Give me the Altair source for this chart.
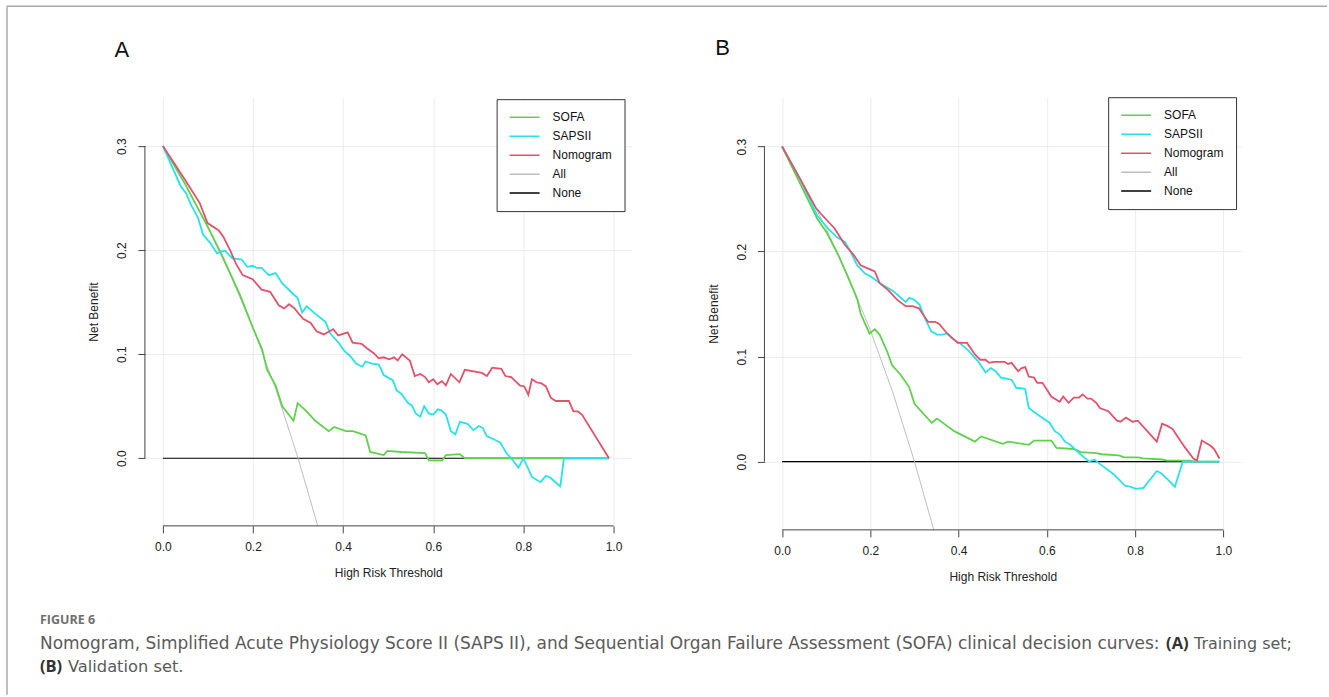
import altair as alt
import pandas as pd

# ---------------- data ----------------
SERIES = ["SOFA", "SAPSII", "Nomogram", "All", "None"]
COLORS = ["#61D04F", "#28E2E5", "#DF536B", "#BEBEBE", "#000000"]
X_TICKS = [0.0, 0.2, 0.4, 0.6, 0.8, 1.0]
Y_TICKS = [0.0, 0.1, 0.2, 0.3]

# shared reference curves
all_x = [0.0, 0.05, 0.10, 0.15, 0.20, 0.25, 0.30, 0.345]
all_y = [0.300, 0.263, 0.222, 0.176, 0.125, 0.067, 0.000, -0.067]
none_x = [0.0, 0.99]
none_y = [0.0, 0.0]

# ---- Panel A (training set)
nom_a_x = [0.000, 0.050, 0.082, 0.099, 0.124, 0.134, 0.149, 0.162, 0.177, 0.199,
           0.219, 0.238, 0.257, 0.269, 0.280, 0.292, 0.311, 0.328, 0.341, 0.357,
           0.378, 0.389, 0.410, 0.421, 0.441, 0.452, 0.468, 0.479, 0.490, 0.502,
           0.513, 0.521, 0.531, 0.548, 0.559, 0.571, 0.582, 0.590, 0.600, 0.609,
           0.619, 0.628, 0.639, 0.658, 0.670, 0.708, 0.719, 0.731, 0.751, 0.760,
           0.773, 0.792, 0.802, 0.811, 0.819, 0.829, 0.840, 0.850, 0.861, 0.872,
           0.901, 0.911, 0.921, 0.930, 0.990]
nom_a_y = [0.300, 0.267, 0.245, 0.226, 0.219, 0.213, 0.200, 0.187, 0.176, 0.172,
           0.162, 0.160, 0.147, 0.144, 0.148, 0.144, 0.134, 0.130, 0.122, 0.119,
           0.124, 0.118, 0.121, 0.111, 0.110, 0.106, 0.101, 0.096, 0.097, 0.095,
           0.097, 0.094, 0.100, 0.094, 0.079, 0.081, 0.078, 0.073, 0.076, 0.071,
           0.074, 0.070, 0.081, 0.073, 0.085, 0.082, 0.079, 0.087, 0.086, 0.079,
           0.078, 0.070, 0.069, 0.061, 0.076, 0.073, 0.072, 0.069, 0.058, 0.055,
           0.055, 0.045, 0.045, 0.042, 0.000]

saps_a_x = [0.000, 0.040, 0.051, 0.063, 0.078, 0.089, 0.105, 0.120, 0.129, 0.139,
            0.154, 0.175, 0.187, 0.200, 0.208, 0.219, 0.235, 0.250, 0.265, 0.284,
            0.299, 0.309, 0.319, 0.338, 0.361, 0.371, 0.388, 0.403, 0.414, 0.429,
            0.442, 0.450, 0.464, 0.479, 0.490, 0.510, 0.519, 0.529, 0.544, 0.552,
            0.561, 0.571, 0.580, 0.590, 0.600, 0.610, 0.618, 0.628, 0.639, 0.649,
            0.659, 0.676, 0.689, 0.701, 0.710, 0.719, 0.731, 0.749, 0.762, 0.773,
            0.789, 0.800, 0.819, 0.838, 0.850, 0.861, 0.876, 0.882, 0.890, 0.990]
saps_a_y = [0.300, 0.261, 0.255, 0.243, 0.231, 0.215, 0.207, 0.197, 0.199, 0.199,
            0.192, 0.191, 0.184, 0.185, 0.183, 0.183, 0.176, 0.178, 0.168, 0.160,
            0.154, 0.140, 0.146, 0.139, 0.131, 0.120, 0.112, 0.103, 0.099, 0.091,
            0.088, 0.093, 0.091, 0.090, 0.080, 0.075, 0.065, 0.062, 0.053, 0.051,
            0.043, 0.040, 0.050, 0.043, 0.042, 0.047, 0.046, 0.042, 0.026, 0.023,
            0.035, 0.033, 0.027, 0.031, 0.029, 0.021, 0.019, 0.015, 0.005, 0.000,
            -0.009, 0.000, -0.018, -0.023, -0.017, -0.019, -0.025, -0.027, 0.000, 0.000]

sofa_a_x = [0.000, 0.050, 0.100, 0.130, 0.170, 0.200, 0.220, 0.231, 0.250, 0.265,
            0.290, 0.299, 0.319, 0.338, 0.368, 0.380, 0.406, 0.422, 0.450, 0.460,
            0.490, 0.498, 0.529, 0.582, 0.590, 0.620, 0.628, 0.659, 0.670, 0.990]
sofa_a_y = [0.300, 0.263, 0.222, 0.196, 0.158, 0.125, 0.105, 0.085, 0.070, 0.050,
            0.036, 0.053, 0.045, 0.036, 0.026, 0.030, 0.026, 0.026, 0.022, 0.006,
            0.003, 0.007, 0.006, 0.005, -0.002, -0.002, 0.003, 0.004, 0.000, 0.000]

# ---- Panel B (validation set)
nom_b_x = [0.000, 0.041, 0.076, 0.088, 0.119, 0.143, 0.162, 0.178, 0.194, 0.210,
           0.221, 0.241, 0.261, 0.280, 0.296, 0.310, 0.331, 0.347, 0.356, 0.374,
           0.398, 0.419, 0.437, 0.449, 0.461, 0.469, 0.480, 0.504, 0.512, 0.520,
           0.535, 0.543, 0.551, 0.559, 0.571, 0.578, 0.590, 0.610, 0.629, 0.637,
           0.649, 0.661, 0.673, 0.681, 0.692, 0.700, 0.712, 0.720, 0.739, 0.759,
           0.767, 0.779, 0.794, 0.806, 0.849, 0.861, 0.873, 0.885, 0.896, 0.912,
           0.932, 0.940, 0.951, 0.971, 0.979, 0.991]
nom_b_y = [0.300, 0.269, 0.242, 0.236, 0.222, 0.206, 0.197, 0.187, 0.184, 0.181,
           0.170, 0.163, 0.154, 0.148, 0.148, 0.146, 0.133, 0.133, 0.131, 0.122,
           0.113, 0.113, 0.102, 0.097, 0.097, 0.094, 0.095, 0.095, 0.093, 0.094,
           0.086, 0.089, 0.090, 0.081, 0.080, 0.075, 0.075, 0.062, 0.057, 0.062,
           0.056, 0.061, 0.061, 0.064, 0.060, 0.060, 0.056, 0.051, 0.048, 0.039,
           0.038, 0.042, 0.038, 0.039, 0.019, 0.036, 0.034, 0.031, 0.024, 0.014,
           0.003, 0.001, 0.020, 0.015, 0.012, 0.003]

saps_b_x = [0.000, 0.041, 0.080, 0.104, 0.123, 0.143, 0.155, 0.170, 0.188, 0.202,
            0.221, 0.237, 0.253, 0.280, 0.288, 0.300, 0.312, 0.323, 0.338, 0.351,
            0.363, 0.374, 0.386, 0.402, 0.422, 0.445, 0.461, 0.473, 0.484, 0.496,
            0.520, 0.531, 0.543, 0.551, 0.559, 0.578, 0.606, 0.618, 0.629, 0.641,
            0.653, 0.673, 0.696, 0.708, 0.716, 0.732, 0.751, 0.763, 0.777, 0.790,
            0.802, 0.819, 0.834, 0.849, 0.859, 0.881, 0.890, 0.908, 0.991]
saps_b_y = [0.300, 0.269, 0.234, 0.222, 0.214, 0.209, 0.200, 0.187, 0.179, 0.176,
            0.170, 0.166, 0.162, 0.152, 0.156, 0.154, 0.149, 0.137, 0.124, 0.121,
            0.121, 0.122, 0.117, 0.113, 0.106, 0.095, 0.085, 0.089, 0.086, 0.080,
            0.078, 0.070, 0.070, 0.069, 0.051, 0.045, 0.037, 0.029, 0.026, 0.019,
            0.016, 0.008, 0.000, 0.002, -0.001, -0.006, -0.012, -0.017, -0.023, -0.024,
            -0.026, -0.025, -0.017, -0.009, -0.011, -0.020, -0.024, 0.000, 0.000]

sofa_b_x = [0.000, 0.080, 0.100, 0.127, 0.151, 0.170, 0.178, 0.198, 0.210, 0.221,
            0.237, 0.249, 0.268, 0.288, 0.300, 0.339, 0.351, 0.390, 0.437, 0.451,
            0.500, 0.512, 0.559, 0.571, 0.610, 0.622, 0.661, 0.677, 0.712, 0.724,
            0.763, 0.775, 0.806, 0.818, 0.861, 0.873, 0.924, 0.936, 0.991]
sofa_b_y = [0.300, 0.231, 0.219, 0.197, 0.174, 0.155, 0.141, 0.122, 0.126, 0.121,
            0.106, 0.092, 0.083, 0.071, 0.055, 0.037, 0.041, 0.029, 0.019, 0.024,
            0.017, 0.019, 0.016, 0.020, 0.020, 0.013, 0.012, 0.009, 0.008, 0.007,
            0.006, 0.004, 0.004, 0.003, 0.002, 0.001, 0.001, 0.000, 0.000]

# texts
PANEL_LETTERS = ["A", "B"]
X_TITLE = "High Risk Threshold"
Y_TITLE = "Net Benefit"
FIG_LABEL = "FIGURE 6"
CAP_MAIN = ("Nomogram, Simplified Acute Physiology Score II (SAPS II), and Sequential "
            "Organ Failure Assessment (SOFA) clinical decision curves:")
CAP_A = "(A)"
CAP_A_TEXT = "Training set;"
CAP_B = "(B)"
CAP_B_TEXT = "Validation set."

# ---------------- helpers ----------------
FONT = "Liberation Sans"
XDOM = [-0.04, 1.04]
YDOM = [-0.065, 0.347]
DRAW_ORDER = ["None", "All", "SOFA", "SAPSII", "Nomogram"]
WIDTHS = {"None": 1.2, "All": 1.0, "SOFA": 1.8, "SAPSII": 1.8, "Nomogram": 1.8}


def build_df(curves):
    rows = []
    for name, (xs, ys) in curves.items():
        assert len(xs) == len(ys), name
        for i, (x, y) in enumerate(zip(xs, ys)):
            rows.append({"series": name, "x": x, "y": y, "i": i})
    return pd.DataFrame(rows)


def text_layer(txt, px, py, size, weight="normal", color="#222", font=FONT, align="left"):
    return alt.Chart(pd.DataFrame({"t": [txt]})).mark_text(
        font=font, fontSize=size, fontWeight=weight, color=color,
        align=align, baseline="middle"
    ).encode(x=alt.value(px), y=alt.value(py), text="t:N")


def panel(curves, W, H, letter, let_x, let_y, leg_x, leg_y, extra=None):
    df = build_df(curves)
    xaxis = alt.Axis(values=X_TICKS, format=".1f", domain=False, grid=True,
                     gridColor="#ececec", gridWidth=1, tickColor="#444", tickSize=7,
                     labelFont=FONT, labelFontSize=12, labelColor="#222",
                     labelPadding=9, labelFlush=False, labelOverlap=False,
                     titleFont=FONT, titleFontSize=12, titleFontWeight="normal",
                     titleColor="#222", titlePadding=15)
    yaxis = alt.Axis(values=Y_TICKS, format=".1f", domain=False, grid=True,
                     gridColor="#ececec", gridWidth=1, tickColor="#444", tickSize=7,
                     labelFont=FONT, labelFontSize=12, labelColor="#222",
                     labelAngle=-90, labelAlign="center", labelBaseline="bottom",
                     labelPadding=9, labelFlush=False, labelOverlap=False,
                     titleFont=FONT, titleFontSize=12, titleFontWeight="normal",
                     titleColor="#222", titlePadding=15)
    xenc = alt.X("x:Q", scale=alt.Scale(domain=XDOM, nice=False, zero=False),
                 axis=xaxis, title=X_TITLE)
    yenc = alt.Y("y:Q", scale=alt.Scale(domain=YDOM, nice=False, zero=False),
                 axis=yaxis, title=Y_TITLE)
    cenc = alt.Color("series:N", scale=alt.Scale(domain=SERIES, range=COLORS),
                     legend=alt.Legend(orient="none", legendX=leg_x, legendY=leg_y,
                                       title=None, symbolType="stroke", symbolSize=900,
                                       symbolStrokeWidth=1.5, clipHeight=12,
                                       rowPadding=7, padding=12, strokeColor="#333",
                                       fillColor="white", labelFont=FONT,
                                       labelFontSize=12, labelColor="#111",
                                       labelOffset=12))
    base = alt.Chart(df)
    layers = []
    for name in DRAW_ORDER:
        layers.append(
            base.transform_filter(alt.datum.series == name)
            .mark_line(strokeWidth=WIDTHS[name], clip=True)
            .encode(x=xenc, y=yenc, color=cenc, order="i:Q")
        )
    one = alt.Chart(pd.DataFrame({"d": [0]}))
    xline = one.mark_rule(color="#444", strokeWidth=1).encode(
        x=alt.datum(X_TICKS[0]), x2=alt.datum(X_TICKS[-1]), y=alt.value(H))
    yline = one.mark_rule(color="#444", strokeWidth=1).encode(
        y=alt.datum(Y_TICKS[0]), y2=alt.datum(Y_TICKS[-1]), x=alt.value(0))
    let = text_layer(letter, let_x, let_y, 22, color="#111", align="center")
    parts = layers + [xline, yline, let] + (extra or [])
    return alt.layer(*parts).properties(width=W, height=H)


curves_a = {"None": (none_x, none_y), "All": (all_x, all_y), "SOFA": (sofa_a_x, sofa_a_y),
            "SAPSII": (saps_a_x, saps_a_y), "Nomogram": (nom_a_x, nom_a_y)}
curves_b = {"None": (none_x, none_y), "All": (all_x, all_y), "SOFA": (sofa_b_x, sofa_b_y),
            "SAPSII": (saps_b_x, saps_b_y), "Nomogram": (nom_b_x, nom_b_y)}

# decorations drawn relative to panel A's plot origin
one = alt.Chart(pd.DataFrame({"d": [0]}))
frame_top = one.mark_rule(color="#aaaaaa", strokeWidth=1.5).encode(
    x=alt.value(-138), x2=alt.value(1183), y=alt.value(-91))
frame_left = one.mark_rule(color="#aaaaaa", strokeWidth=1.5).encode(
    x=alt.value(-138), y=alt.value(-91), y2=alt.value(598))
CAP_FONT = "DejaVu Sans"
CAP_COLOR = "#5a5a5a"
BOLD_FONT = "Open Sans"
extra_a = [
    frame_top, frame_left,
    text_layer(FIG_LABEL, -105, 523, 12.5, weight="bold", color="#707070", font="Open Sans"),
    text_layer(CAP_MAIN, -105, 547, 17, color=CAP_COLOR, font=CAP_FONT),
    text_layer(CAP_A, 1022, 547, 16.5, weight="bold", color="#333333", font=BOLD_FONT),
    text_layer(CAP_A_TEXT, 1050, 547, 16, color=CAP_COLOR, font=CAP_FONT),
    text_layer(CAP_B, -105, 570, 16.5, weight="bold", color="#333333", font=BOLD_FONT),
    text_layer(CAP_B_TEXT, -77, 570, 16.3, color=CAP_COLOR, font=CAP_FONT),
]

pa = panel(curves_a, 487, 429, PANEL_LETTERS[0], -23, -47, 352, 2, extra_a)
pb = panel(curves_b, 477, 433, PANEL_LETTERS[1], -42, -49, 344, 0)

chart = (
    alt.hconcat(pa, pb, spacing=133, bounds="flush")
    .resolve_scale(color="independent")
    .properties(padding={"left": 5, "top": 4, "right": 0, "bottom": 0}, background="white")
    .configure_view(stroke="transparent")
)

chart.save("out.html", embed_options={"renderer": "svg", "actions": False})
